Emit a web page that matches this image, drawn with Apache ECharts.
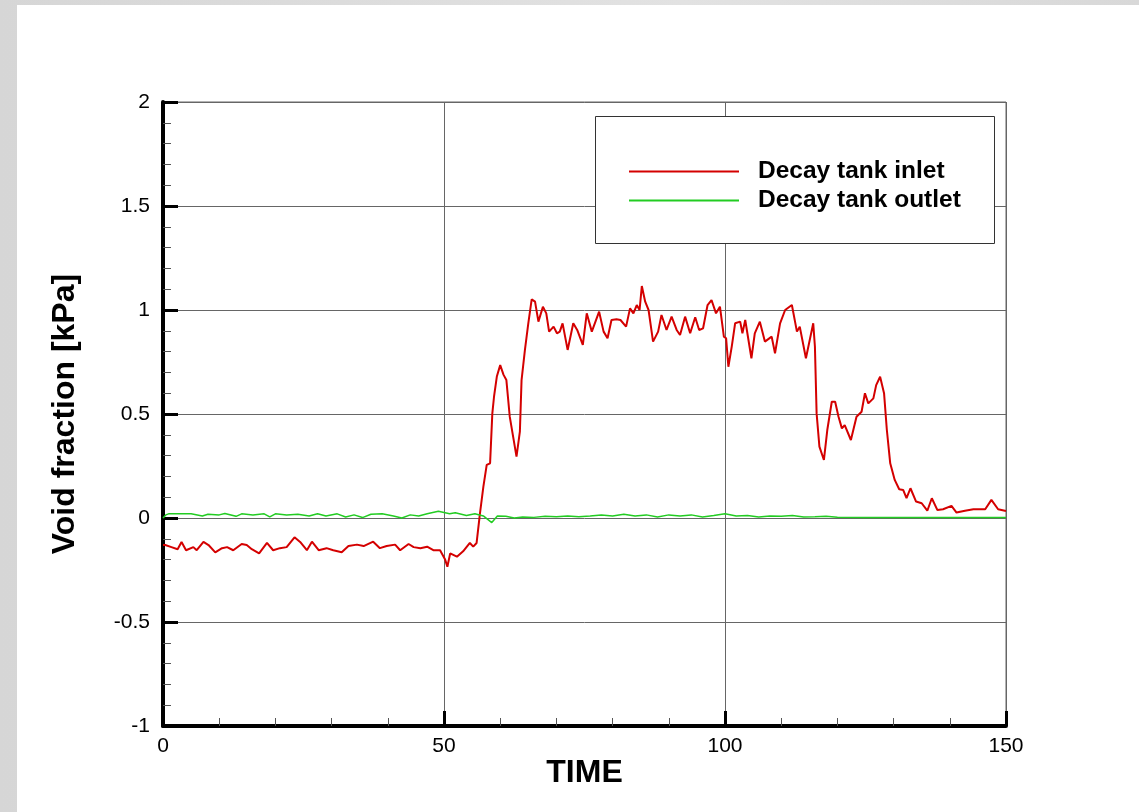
<!DOCTYPE html>
<html>
<head>
<meta charset="utf-8">
<script src="https://cdn.jsdelivr.net/npm/echarts@6/dist/echarts.min.js"></script>
<style>
  html, body { margin: 0; padding: 0; width: 1139px; height: 812px; overflow: hidden;
    background: linear-gradient(90deg, #d6d6d6, #e2e2e2 60%, #d8d8d8); }
  #chart { position: absolute; left: 17px; top: 5px; width: 1122px; height: 807px; background: #fff; }
</style>
</head>
<body>
<div id="chart"></div>
<script>
var chart = echarts.init(document.getElementById('chart'));

// Decay tank inlet (red)
var inletTime = [0, 0.4, 1.5, 2.6, 3.3, 4.1, 5.4, 6.0, 7.2, 8.1, 9.3, 10.5, 11.4, 12.5, 14.0, 14.9, 15.8, 17.1, 18.5, 19.6,
    20.8, 22.0, 23.4, 24.4, 25.6, 26.5, 27.7, 29.1, 30.3, 31.8, 33.0, 34.5, 35.7, 37.4, 38.6, 39.8, 41.3, 42.2, 43.7, 44.6,
    45.8, 47.0, 48.1, 49.3, 50.2, 50.6, 51.1, 52.3, 53.4, 54.6, 55.2, 55.8, 56.4, 57.0, 57.6, 58.2, 58.6, 58.9, 59.4, 60.0,
    60.6, 61.1, 61.7, 62.3, 62.9, 63.5, 63.8, 64.4, 65.0, 65.6, 66.2, 66.8, 67.6, 68.2, 68.7, 69.5, 70.1, 70.6, 71.1, 72.0,
    73.0, 73.7, 74.7, 75.4, 76.3, 77.6, 78.4, 79.1, 79.8, 80.7, 81.4, 82.4, 83.1, 83.7, 84.3, 84.8, 85.2, 85.8, 86.4, 87.2,
    88.1, 88.7, 89.6, 90.5, 91.4, 92.0, 92.9, 93.8, 94.7, 95.4, 96.1, 96.9, 97.6, 98.4, 99.1, 99.8, 100.2, 100.6, 101.2, 101.8,
    102.7, 103.1, 103.6, 104.7, 105.3, 106.2, 107.1, 108.3, 108.9, 109.8, 110.7, 111.9, 112.8, 113.3, 114.4, 115.7, 116.0, 116.3, 116.8, 117.6,
    118.2, 119.0, 119.6, 120.2, 120.8, 121.3, 122.4, 123.4, 124.3, 124.9, 125.5, 126.4, 126.9, 127.6, 128.3, 128.8, 129.4, 130.2, 131.0, 131.7,
    132.3, 133.0, 134.0, 135.0, 136.0, 136.8, 137.8, 138.8, 140.3, 141.2, 142.7, 144.2, 146.3, 147.4, 148.6, 150.0];
var inletValue = [-0.13, -0.13, -0.14, -0.15, -0.115, -0.155, -0.14, -0.155, -0.115, -0.13, -0.165, -0.145, -0.14, -0.155, -0.125, -0.13, -0.15, -0.17, -0.12, -0.155,
    -0.145, -0.14, -0.093, -0.115, -0.155, -0.114, -0.155, -0.145, -0.155, -0.165, -0.135, -0.128, -0.135, -0.114, -0.145, -0.135, -0.128, -0.155, -0.125, -0.14,
    -0.145, -0.138, -0.155, -0.155, -0.2, -0.234, -0.17, -0.186, -0.16, -0.12, -0.138, -0.12, 0.022, 0.15, 0.255, 0.263, 0.503, 0.583, 0.68, 0.735,
    0.688, 0.663, 0.487, 0.391, 0.295, 0.415, 0.663, 0.808, 0.936, 1.051, 1.04, 0.944, 1.016, 0.984, 0.896, 0.92, 0.888, 0.896, 0.936, 0.808,
    0.936, 0.904, 0.832, 0.984, 0.896, 0.992, 0.896, 0.864, 0.952, 0.955, 0.952, 0.92, 1.008, 0.984, 1.024, 1.0, 1.115, 1.04, 1.0, 0.848,
    0.896, 0.976, 0.904, 0.968, 0.904, 0.88, 0.968, 0.888, 0.965, 0.904, 0.912, 1.024, 1.048, 0.984, 1.016, 0.872, 0.864, 0.727, 0.824, 0.936,
    0.944, 0.888, 0.952, 0.768, 0.888, 0.944, 0.848, 0.872, 0.792, 0.936, 1.0, 1.024, 0.896, 0.92, 0.768, 0.936, 0.824, 0.503, 0.343, 0.279,
    0.423, 0.559, 0.559, 0.487, 0.431, 0.447, 0.375, 0.487, 0.511, 0.6, 0.551, 0.575, 0.639, 0.679, 0.6, 0.423, 0.263, 0.183, 0.138, 0.135,
    0.095, 0.143, 0.079, 0.071, 0.035, 0.095, 0.038, 0.042, 0.058, 0.026, 0.035, 0.042, 0.042, 0.087, 0.042, 0.034];

// Decay tank outlet (green)
var outletTime = [0, 0.5, 1, 3, 5, 7, 8, 10, 11, 13, 14, 16, 18, 19, 20, 22, 24, 26, 27.5, 29,
    31, 32.5, 34, 35.5, 37, 39, 41, 42.5, 44, 45.5, 47, 49, 51, 52, 54, 55.5, 57, 58.5, 59.5, 61,
    62.5, 64, 66, 68, 70, 72, 74, 76, 78, 80, 82, 84, 86, 88, 90, 92, 94, 96, 98, 100,
    102, 104, 106, 108, 110, 112, 114, 116, 118, 120, 125, 130, 135, 140, 145, 150];
var outletValue = [0.0, 0.015, 0.02, 0.02, 0.02, 0.01, 0.018, 0.015, 0.022, 0.008, 0.02, 0.015, 0.02, 0.005, 0.02, 0.015, 0.018, 0.01, 0.02, 0.01,
    0.02, 0.005, 0.015, 0.002, 0.018, 0.02, 0.01, 0.0, 0.015, 0.01, 0.02, 0.032, 0.02, 0.025, 0.012, 0.02, 0.01, -0.022, 0.01, 0.008,
    0.0, 0.005, 0.003, 0.008, 0.006, 0.01, 0.006, 0.01, 0.015, 0.01, 0.018, 0.01, 0.015, 0.005, 0.015, 0.01, 0.015, 0.005, 0.012, 0.02,
    0.01, 0.012, 0.005, 0.01, 0.008, 0.012, 0.005, 0.006, 0.008, 0.004, 0.003, 0.002, 0.003, 0.002, 0.003, 0.003];

function pairs(xs, ys) {
    var res = [];
    for (var i = 0; i < xs.length; i++) res.push([xs[i], ys[i]]);
    return res;
}

var font = 'Liberation Sans, Arial, Helvetica, sans-serif';

option = {
    backgroundColor: '#fff',
    animation: false,
    textStyle: { fontFamily: font },
    grid: {
        left: 146, right: 133, top: 97, bottom: 86,
        show: true, borderColor: '#666', borderWidth: 1
    },
    legend: {
        left: 612, top: 154, orient: 'vertical', padding: 0,
        icon: 'rect', itemWidth: 110, itemHeight: 2, itemGap: 4,
        textStyle: { fontFamily: font, fontSize: 24.5, fontWeight: 'bold', color: '#000', lineHeight: 25, padding: [0, 0, 0, 14] },
        data: ['Decay tank inlet', 'Decay tank outlet'],
        z: 20
    },
    graphic: [{
        type: 'rect', left: 578, top: 111, z: 10,
        shape: { width: 399, height: 127 },
        style: { fill: '#fff', stroke: '#333', lineWidth: 1 }
    }],
    xAxis: {
        type: 'value', min: 0, max: 150, interval: 50,
        name: 'TIME', nameLocation: 'middle', nameGap: 31, nameMoveOverlap: false,
        nameTextStyle: { fontFamily: font, fontSize: 32, fontWeight: 'bold', color: '#000' },
        axisLine: { onZero: false, lineStyle: { color: '#000', width: 4 } },
        axisTick: { inside: true, length: 15, lineStyle: { color: '#000', width: 3 } },
        minorTick: { show: true, splitNumber: 5, length: 8, lineStyle: { color: '#555', width: 1 } },
        splitLine: { show: true, lineStyle: { color: '#666', width: 1 } },
        axisLabel: { fontFamily: font, fontSize: 21, color: '#000', margin: 10 }
    },
    yAxis: {
        type: 'value', min: -1, max: 2, interval: 0.5,
        name: 'Void fraction [kPa]', nameLocation: 'middle', nameGap: 82,
        nameTextStyle: { fontFamily: font, fontSize: 32, fontWeight: 'bold', color: '#000' },
        axisLine: { show: true, onZero: false, lineStyle: { color: '#000', width: 4 } },
        axisTick: { show: true, inside: true, length: 15, lineStyle: { color: '#000', width: 3 } },
        minorTick: { show: true, splitNumber: 5, length: 8, lineStyle: { color: '#555', width: 1 } },
        splitLine: { show: true, lineStyle: { color: '#666', width: 1 } },
        axisLabel: { fontFamily: font, fontSize: 21, color: '#000', margin: 13 }
    },
    series: [{
        name: 'Decay tank inlet',
        type: 'line',
        data: pairs(inletTime, inletValue),
        showSymbol: false,
        color: '#d40000',
        lineStyle: { color: '#d40000', width: 2 },
        z: 3
    }, {
        name: 'Decay tank outlet',
        type: 'line',
        data: pairs(outletTime, outletValue),
        showSymbol: false,
        color: '#22cc22',
        lineStyle: { color: '#22cc22', width: 1.5 },
        z: 3
    }]
};
chart.setOption(option);
</script>
</body>
</html>
